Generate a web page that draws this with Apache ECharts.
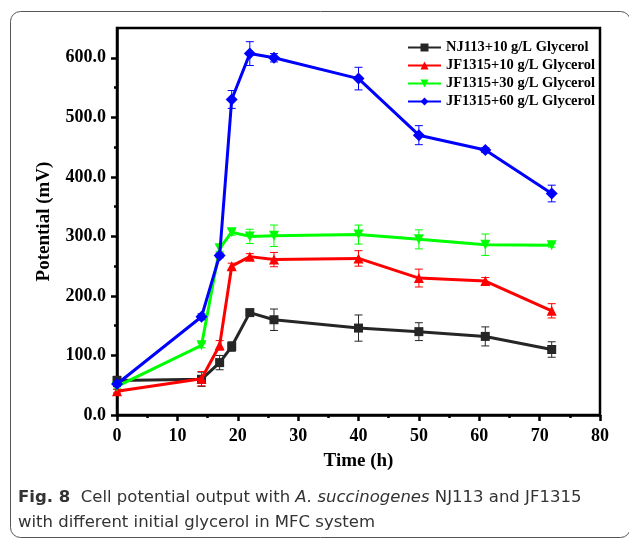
<!DOCTYPE html>
<html>
<head>
<meta charset="utf-8">
<script src="https://cdn.jsdelivr.net/npm/echarts@6/dist/echarts.min.js"></script>
<style>
html,body{margin:0;padding:0;background:#fff;}
#main{width:629px;height:540px;}
</style>
</head>
<body>
<div id="main"></div>
<script>
// time points (h)
var times = [0, 14, 17, 19, 22, 26, 40, 50, 61, 72];
// potential (mV)
var nj113 = [58, 60, 88, 115, 172, 160, 146, 140, 132, 110];
var jf10 = [40, 61, 117, 250, 266, 261, 263, 230, 225, 175];
var jf30 = [48, 117, 280, 307, 300, 301, 303, 295, 286, 285];
var jf60 = [52, 165, 268, 530, 607, 600, 565, 470, 445, 372];
// error bars (+/-)
var errNJ = [7, 12, 12, 8, 5, 18, 22, 15, 16, 13];
var err10 = [3, 12, 8, 5, 5, 12, 13, 15, 6, 12];
var err30 = [3, 4, 5, 5, 12, 18, 16, 16, 18, 3];
var err60 = [4, 5, 4, 15, 20, 7, 19, 16, 4, 14];

var names = ['NJ113+10 g/L Glycerol', 'JF1315+10 g/L Glycerol', 'JF1315+30 g/L Glycerol', 'JF1315+60 g/L Glycerol'];
var colors = ['#262626', '#ff0000', '#00ff00', '#0000ff'];
var symbols = ['rect', 'triangle', 'path://M0,0 L10,0 L5,9 Z', 'diamond'];
var yTicks = [0, 100, 200, 300, 400, 500, 600];

var allVals = [nj113, jf10, jf30, jf60];
var allErr = [errNJ, err10, err30, err60];
var serif = 'Liberation Serif';
var capFont = 'DejaVu Sans';

function errBar(params, api) {
    var x = api.value(0), y = api.value(1), e = api.value(2);
    var top = api.coord([x, y + e]);
    var bot = api.coord([x, y - e]);
    var st = {stroke: api.visual('color'), lineWidth: 1};
    return {
        type: 'group',
        children: [
            {type: 'line', shape: {x1: top[0], y1: top[1], x2: bot[0], y2: bot[1]}, style: st},
            {type: 'line', shape: {x1: top[0] - 4, y1: top[1], x2: top[0] + 4, y2: top[1]}, style: st},
            {type: 'line', shape: {x1: bot[0] - 4, y1: bot[1], x2: bot[0] + 4, y2: bot[1]}, style: st}
        ]
    };
}

var series = [];
for (var k = 0; k < 4; k++) {
    series.push({
        name: 'err' + k,
        type: 'custom',
        renderItem: errBar,
        itemStyle: {color: colors[k]},
        data: times.map(function (t, i) { return [t, allVals[k][i], allErr[k][i]]; }),
        z: 2 + k,
        silent: true
    });
}
for (var k = 0; k < 4; k++) {
    series.push({
        name: names[k],
        type: 'line',
        data: times.map(function (t, i) { return [t, allVals[k][i]]; }),
        symbol: symbols[k],
        symbolSize: k == 0 ? 9 : (k == 3 ? 12 : 10),
        color: colors[k],
        lineStyle: {width: 3, color: colors[k]},
        itemStyle: {color: colors[k]},
        z: 2 + k
    });
}

var myChart = echarts.init(document.getElementById('main'));
var option = {
    animation: false,
    grid: {left: 117, right: 29, top: 28, bottom: 125, show: true, borderColor: '#000', borderWidth: 2.5},
    legend: {
        data: names,
        orient: 'vertical',
        left: 402,
        top: 35,
        itemWidth: 33,
        itemHeight: 10,
        itemGap: 3,
        selectedMode: false,
        textStyle: {fontFamily: serif, fontWeight: 'bold', fontSize: 14.5, color: '#000'}
    },
    xAxis: {
        type: 'value',
        min: 0, max: 80, interval: 10,
        name: 'Time (h)',
        nameLocation: 'middle',
        nameGap: 37,
        nameTextStyle: {fontFamily: serif, fontWeight: 'bold', fontSize: 19, color: '#000'},
        axisLine: {lineStyle: {color: '#000', width: 2.5}},
        axisTick: {length: 6, lineStyle: {width: 2.5, color: '#000'}},
        minorTick: {show: true, splitNumber: 2, length: 3, lineStyle: {width: 2.5, color: '#000'}},
        splitLine: {show: false},
        axisLabel: {fontFamily: serif, fontWeight: 'bold', fontSize: 18, color: '#000', margin: 12}
    },
    yAxis: {
        type: 'value',
        min: 0, max: 650, interval: 100,
        name: 'Potential (mV)',
        nameLocation: 'middle',
        nameGap: 63,
        nameTextStyle: {fontFamily: serif, fontWeight: 'bold', fontSize: 19, color: '#000'},
        axisLine: {lineStyle: {color: '#000', width: 2.5}},
        axisTick: {length: 6, customValues: yTicks, lineStyle: {width: 2.5, color: '#000'}},
        minorTick: {show: true, splitNumber: 2, length: 3, lineStyle: {width: 2.5, color: '#000'}},
        splitLine: {show: false},
        axisLabel: {
            customValues: yTicks,
            fontFamily: serif, fontWeight: 'bold', fontSize: 18, color: '#000', margin: 11,
            formatter: function (v) { return v.toFixed(1); }
        }
    },
    graphic: [
        {
            type: 'rect',
            shape: {x: 10.5, y: 11.5, width: 620, height: 526, r: 10},
            style: {fill: 'none', stroke: '#555', lineWidth: 1},
            silent: true
        },
        {
            type: 'text',
            left: 18,
            top: 485,
            style: {
                text: '{b|Fig. 8}  Cell potential output with {i|A. succinogenes} NJ113 and JF1315\nwith different initial glycerol in MFC system',
                fontFamily: capFont,
                fontSize: 16.5,
                lineHeight: 25,
                fill: '#333',
                rich: {
                    b: {fontFamily: capFont, fontSize: 16.5, fontWeight: 'bold', fill: '#333', lineHeight: 25},
                    i: {fontFamily: capFont, fontSize: 16.5, fontStyle: 'italic', fill: '#333', lineHeight: 25}
                }
            }
        }
    ],
    series: series
};
myChart.setOption(option);
</script>
</body>
</html>
